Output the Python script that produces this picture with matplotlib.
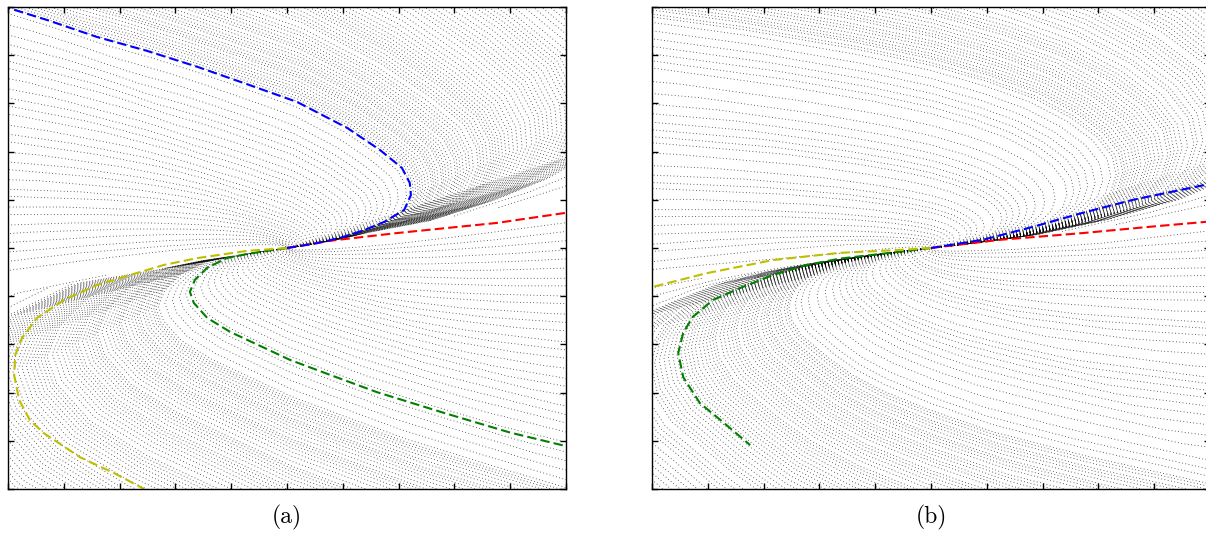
import numpy as np
import matplotlib.pyplot as plt

plt.rcParams['font.family'] = 'cmr10'
plt.rcParams['axes.unicode_minus'] = False

# slope of the line all trajectories are tangent to at the node (origin)
a_slope = 0.14
b_slope = 0.10

# ---------------- panel (a): coloured trajectories ----------------
a_blue_x = [0, 0.18, 0.54, 0.95, 1.38, 1.74, 2.10, 2.22, 2.20, 2.06, 1.67, 1.08, 0.18, -0.72, -1.61, -2.51, -3.41, -4.30, -5.05]
a_blue_y = [0, 0.03, 0.10, 0.21, 0.37, 0.54, 0.79, 1.10, 1.35, 1.66, 2.03, 2.49, 3.03, 3.40, 3.76, 4.09, 4.38, 4.73, 5.00]
a_red_x = [0, 0.77, 1.97, 3.76, 5.0]
a_red_y = [0, 0.15, 0.31, 0.52, 0.73]
a_green_x = [0, -0.36, -0.72, -1.08, -1.43, -1.65, -1.74, -1.67, -1.43, -1.02, -0.41, 0.05, 0.72, 1.61, 2.81, 4.00, 5.0]
a_green_y = [0, -0.06, -0.125, -0.21, -0.41, -0.66, -0.91, -1.14, -1.45, -1.74, -2.07, -2.32, -2.61, -2.99, -3.42, -3.83, -4.11]
a_yellow_x = [0, -0.72, -1.61, -2.20, -2.81, -3.41, -4.00, -4.48, -4.75, -4.87, -4.89, -4.80, -4.61, -4.36, -3.71, -3.10, -2.56]
a_yellow_y = [0, -0.06, -0.21, -0.35, -0.56, -0.77, -1.08, -1.45, -1.87, -2.22, -2.64, -3.15, -3.57, -3.84, -4.34, -4.67, -5.00]

# shape of the background trajectories (upper / lower half), blue and green
# continued beyond the frame by eye
a_up_x = [0.001, 0.01, 0.05, 0.18, 0.54, 0.95, 1.38, 1.74, 2.10, 2.22, 2.20, 2.06, 1.67, 1.08, 0.18, -0.72,
          -1.61, -2.51, -3.41, -4.30, -5.05, -8, -12, -18, -28, -45, -70, -110, -180, -300, -500, -900, -1600]
a_up_y = [0.000142, 0.00145, 0.0075, 0.03, 0.10, 0.21, 0.37, 0.54, 0.79, 1.10, 1.35, 1.66, 2.03, 2.49, 3.03, 3.40,
          3.76, 4.09, 4.38, 4.73, 5.00, 5.9, 6.8, 7.8, 8.8, 9.5, 9.5, 8, 3, -8, -35, -95, -200]
a_lo_x = [-0.001, -0.01, -0.05, -0.36, -0.72, -1.08, -1.43, -1.65, -1.74, -1.67, -1.43, -1.02, -0.41, 0.05, 0.72,
          1.61, 2.81, 4.00, 4.95, 7, 10, 15, 23, 36, 55, 85, 130, 200, 330, 550, 950, 1700]
a_lo_y = [-0.000142, -0.00145, -0.0075, -0.058, -0.125, -0.21, -0.41, -0.66, -0.91, -1.14, -1.45, -1.74, -2.07,
          -2.32, -2.61, -2.99, -3.42, -3.83, -4.10, -4.7, -5.3, -6.0, -6.6, -7.0, -7.0, -6.0, -3.5, 2, 15, 45, 105, 215]

# ---------------- panel (b) ----------------
b_blue_x = [0, 0.93, 1.83, 2.72, 3.62, 5.0]
b_blue_y = [0, 0.17, 0.44, 0.73, 1.00, 1.33]
b_red_x = [0, 1.24, 2.72, 3.92, 5.0]
b_red_y = [0, 0.17, 0.31, 0.44, 0.55]
b_green_x = [0, -0.73, -1.63, -2.22, -2.83, -3.42, -3.91, -4.27, -4.44, -4.53, -4.44, -4.14, -3.73, -3.24]
b_green_y = [0, -0.10, -0.22, -0.35, -0.56, -0.83, -1.08, -1.43, -1.76, -2.18, -2.68, -3.22, -3.61, -4.09]
b_yellow_x = [0, -0.56, -1.63, -2.83, -4.01, -5.0]
b_yellow_y = [0, -0.04, -0.10, -0.25, -0.52, -0.81]

b_up_x = [0.001, 0.01, 0.05, 0.5, 1.5, 2.5, 3.5, 4.3, 4.75, 4.9, 4.8, 4.4, 3.7, 2.7, 1.5, 0, -2, -5, -10, -20,
          -40, -80, -150, -300, -600, -1200, -2400]
b_up_y = [0.000105, 0.00108, 0.0058, 0.065, 0.22, 0.47, 0.80, 1.2, 1.7, 2.25, 2.8, 3.4, 4.0, 4.6, 5.1, 5.6, 6.1,
          6.7, 7.5, 8.5, 9.5, 9.5, 7, -5, -40, -100, -220]
b_lo_x = [-0.001, -0.01, -0.05, -0.73, -1.63, -2.22, -2.83, -3.42, -3.91, -4.27, -4.44, -4.53, -4.44, -4.14, -3.73,
          -3.24, -2.5, -1.5, 0, 2, 5, 10, 20, 40, 80, 150, 300, 600, 1200, 2400]
b_lo_y = [-0.000105, -0.00108, -0.0058, -0.10, -0.25, -0.38, -0.56, -0.83, -1.08, -1.43, -1.76, -2.18, -2.68, -3.22,
          -3.61, -4.09, -4.7, -5.3, -6.0, -6.8, -7.7, -9.0, -10.5, -12, -12.5, -11, -5, 20, 100, 220]


def scales(tx, ty, slope, upper, step_x=0.16, step_y=0.19):
    # scale factor of the copy of the template that passes through each point of the frame
    tx, ty = np.asarray(tx), np.asarray(ty)
    th_t = np.degrees(np.arctan2(ty, tx))
    if upper:
        th_t = th_t % 360
    r_t = np.hypot(tx, ty)
    xs = np.arange(-5, 5.001, step_x)
    ys = np.arange(-5, 5.001, step_y)
    pts = [(x, 5) for x in xs] + [(x, -5) for x in xs] + [(-5, y) for y in ys] + [(5, y) for y in ys]
    ks = []
    for px, py in pts:
        if (py > slope * px) != upper:
            continue
        th = np.degrees(np.arctan2(py, px))
        if upper:
            th = th % 360
        if th < th_t[0] or th > th_t[-1]:
            continue
        ks.append(np.hypot(px, py) / np.interp(th, th_t, r_t))
    ks = np.sort(ks)
    out = [ks[0]]
    for k in ks[1:]:
        if np.log(k / out[-1]) > 0.012:
            out.append(k)
    return out


def draw_panel(ax, slope, up, lo, curves, label):
    for (tx, ty), upper in ((up, True), (lo, False)):
        fx = np.concatenate([[0], tx])
        fy = np.concatenate([[0], ty])
        r = np.hypot(fx, fy)
        for k in scales(tx, ty, slope, upper):
            # the outer trajectories are only drawn down to some distance from the node
            cut = 4.3 * (1 - np.exp(-max(k - 1.0, 0.0) / 2.5))
            keep = k * r >= cut
            ax.plot(k * fx[keep], k * fy[keep], color='k', lw=0.6, linestyle=(0, (1, 3)), alpha=0.8)
    for cx, cy, c in curves:
        ax.plot(cx, cy, color=c, lw=1.5, linestyle=(0, (4.5, 2)))
    ax.set_xlim(-5, 5)
    ax.set_ylim(-5, 5)
    ax.set_xticks(np.arange(-5, 6))
    ax.set_yticks(np.arange(-5, 6))
    ax.tick_params(direction='in', length=4, width=1, top=True, right=True,
                   labelbottom=False, labelleft=False)
    for s in ax.spines.values():
        s.set_linewidth(1.0)
    ax.text(0.5, -0.058, label, transform=ax.transAxes, ha='center', va='center', fontsize=17)


fig = plt.figure(figsize=(12.06, 5.33), dpi=100)
ax_a = fig.add_axes([8 / 1206, 44 / 533, 558 / 1206, 482 / 533])
ax_b = fig.add_axes([652 / 1206, 44 / 533, 558 / 1206, 482 / 533])

draw_panel(ax_a, a_slope, (a_up_x, a_up_y), (a_lo_x, a_lo_y),
           [(a_red_x, a_red_y, 'r'), (a_blue_x, a_blue_y, 'b'),
            (a_green_x, a_green_y, 'g'), (a_yellow_x, a_yellow_y, 'y')], '(a)')
draw_panel(ax_b, b_slope, (b_up_x, b_up_y), (b_lo_x, b_lo_y),
           [(b_red_x, b_red_y, 'r'), (b_blue_x, b_blue_y, 'b'),
            (b_green_x, b_green_y, 'g'), (b_yellow_x, b_yellow_y, 'y')], '(b)')

fig.savefig('out.png', dpi=100)
